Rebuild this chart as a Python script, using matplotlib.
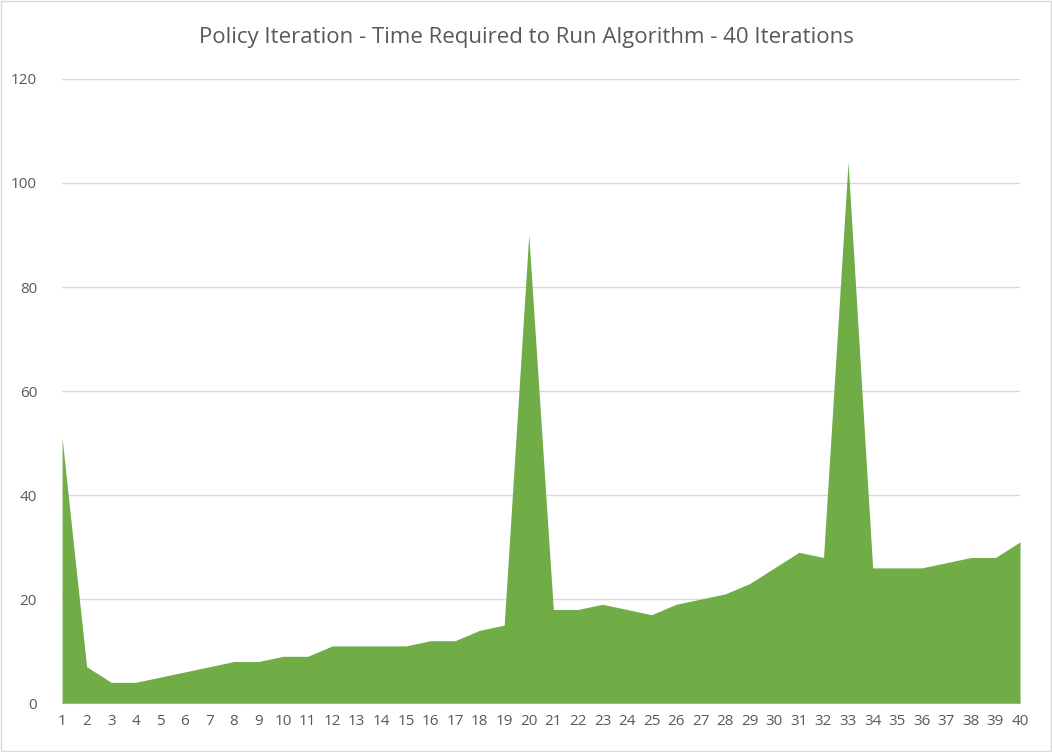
import matplotlib
matplotlib.use("Agg")
import matplotlib.pyplot as plt

iterations = list(range(1, 41))
times = [51, 7, 4, 4, 5, 6, 7, 8, 8, 9, 9, 11, 11, 11, 11, 12, 12, 14, 15, 90,
         18, 18, 19, 18, 17, 19, 20, 21, 23, 26, 29, 28, 104, 26, 26, 26, 27, 28, 28, 31]
title = "Policy Iteration - Time Required to Run Algorithm - 40 Iterations"

plt.rcParams['font.family'] = ['Open Sans', 'DejaVu Sans']
fig = plt.figure(figsize=(10.52, 7.52), dpi=100)
ax = fig.add_axes([0.059, 0.065, 0.9106, 0.83])
ax.fill_between(iterations, times, 0, color='#70AD47', linewidth=0, zorder=3)
ax.set_xlim(1, 40)
ax.set_ylim(0, 120)
ax.set_yticks(range(0, 121, 20))
ax.set_xticks(iterations)
ax.grid(axis='y', color='#D9D9D9', linewidth=1, zorder=0)
for s in ['top', 'right', 'left']:
    ax.spines[s].set_visible(False)
ax.spines['bottom'].set_color('#D9D9D9')
ax.tick_params(colors='#595959', labelsize=11, length=0, pad=8)
ax.tick_params(axis='y', pad=18)
fig.text(0.5, 0.95, title, ha='center', va='center', fontsize=16, color='#595959')
fig.patches.append(plt.Rectangle((0.001, 0.001), 0.998, 0.998, transform=fig.transFigure,
                                 fill=False, edgecolor='#D9D9D9', linewidth=1))
fig.savefig('out.png', dpi=100)
